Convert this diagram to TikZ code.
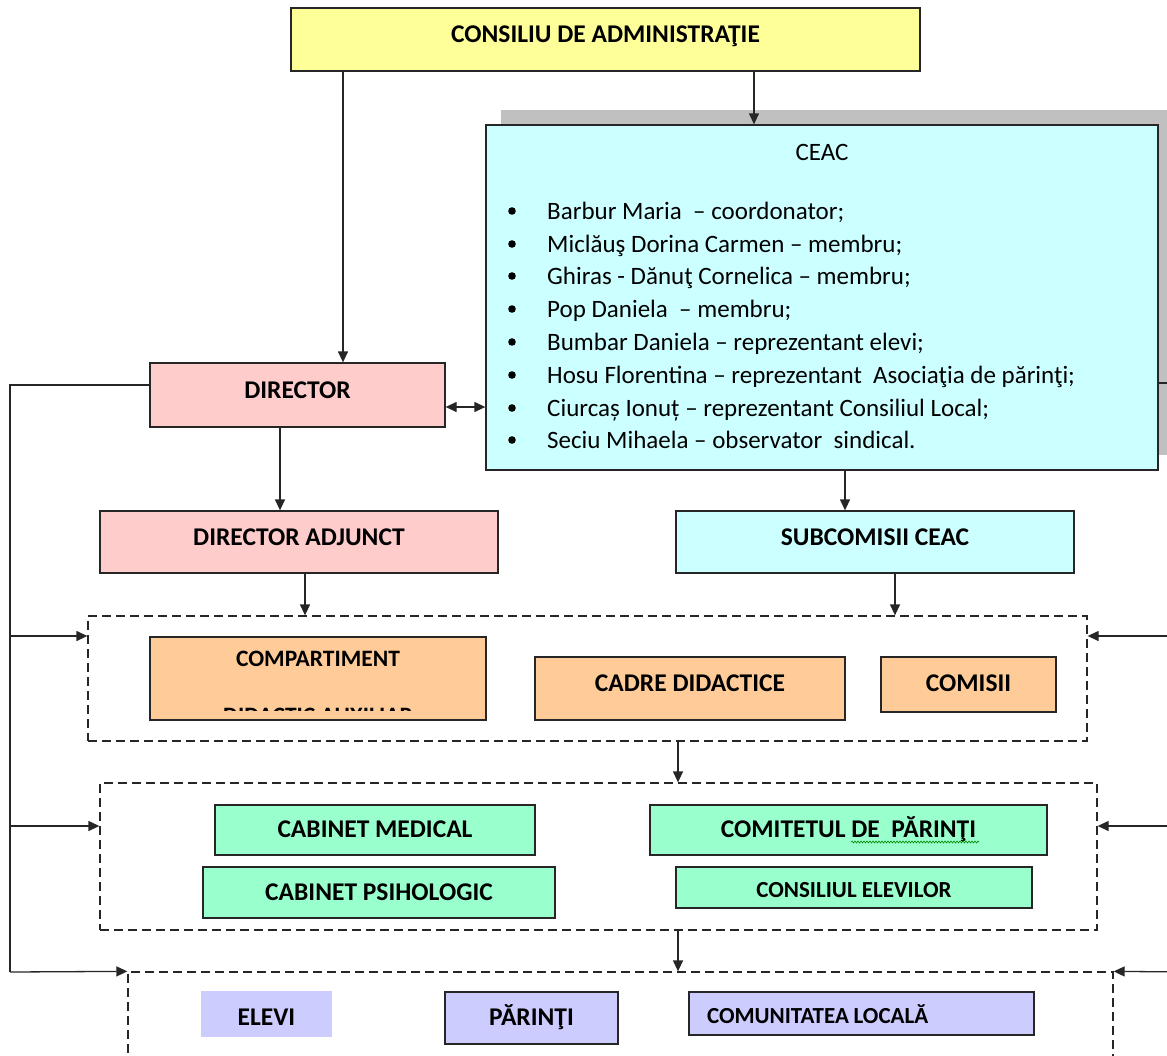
\documentclass[tikz,border=0pt]{standalone}
\usepackage{fontspec}
\setmainfont{Carlito}
\usetikzlibrary{arrows.meta,decorations.pathmorphing}
\definecolor{cyel}{HTML}{FFFF99}
\definecolor{cpnk}{HTML}{FFCCCC}
\definecolor{ccya}{HTML}{CCFFFF}
\definecolor{cora}{HTML}{FFCC99}
\definecolor{cgrn}{HTML}{99FFCC}
\definecolor{clav}{HTML}{CCCCFF}
\definecolor{cshd}{HTML}{C0C0C0}
\definecolor{cline}{HTML}{262626}
\begin{document}
\begin{tikzpicture}[x=1pt,y=-1pt,
  box/.style={draw=cline, line width=1.3pt, inner sep=0pt,
    font=\fontsize{25.5}{30}\selectfont\bfseries, text height=16pt, text depth=10pt},
  grp/.style={draw=cline, line width=1.3pt, dash pattern=on 9pt off 5pt, inner sep=0pt},
  reg/.style={inner sep=0pt, font=\fontsize{25}{30}\selectfont, text height=17pt, text depth=5pt},
  conn/.style={draw=cline, line width=1.3pt},
  arr/.style={conn, -{Triangle[length=11pt,width=10pt]}},
  darr/.style={conn, {Triangle[length=11pt,width=10pt]}-{Triangle[length=11pt,width=10pt]}},
]
\useasboundingbox (0,0) rectangle (1167,1055);
\clip (0,0) rectangle (1167,1055);

% top
\node[box, fill=cyel, minimum width=629pt, minimum height=63pt] (cons) at (605.5,39.5) {CONSILIU DE ADMINISTRAŢIE};

% CEAC with shadow
\fill[cshd] (501,110) rectangle (1175,455);
\node[draw=cline, line width=1.3pt, fill=ccya, minimum width=672pt, minimum height=345pt, inner sep=0pt] (ceac) at (822,297.5) {};
\node[reg] (ceact) at (822,154) {CEAC};
\foreach \i/\yy/\txt in {
  1/211/{Barbur Maria\ \ -- coordonator;},
  2/244/{Miclăuş Dorina Carmen -- membru;},
  3/276/{Ghiras - Dănuţ Cornelica -- membru;},
  4/309/{Pop Daniela\ \ -- membru;},
  5/342/{Bumbar Daniela -- reprezentant elevi;},
  6/375/{Hosu Florentina -- reprezentant\ \ Asociaţia de părinţi;},
  7/408/{Ciurcaș Ionuț -- reprezentant Consiliul Local;},
  8/440/{Seciu Mihaela -- observator\ \ sindical.}}{
  \fill (512,\yy) circle (3.8pt);
  \node[reg, anchor=west] (l\i) at (547,\yy+2) {\txt};
}

% director level
\node[box, fill=cpnk, minimum width=295pt, minimum height=64pt] (dir) at (297.5,395) {DIRECTOR};
\node[box, fill=cpnk, minimum width=398pt, minimum height=62pt] (dadj) at (299,542) {DIRECTOR ADJUNCT};
\node[box, fill=ccya, minimum width=398pt, minimum height=62pt] (sub) at (875,542) {SUBCOMISII CEAC};

% dashed groups
\node[grp, minimum width=999pt, minimum height=125pt] (g1) at (587.5,678.5) {};
\node[grp, minimum width=997pt, minimum height=147pt] (g2) at (598.5,856.5) {};
\node[grp, minimum width=985pt, minimum height=100pt] (g3) at (620.5,1022) {};

% group 1
\node[box, fill=cora, minimum width=336pt, minimum height=83pt] (comp) at (318,678.5) {};
\node[inner sep=0pt, font=\fontsize{23.5}{28}\selectfont\bfseries] (compt) at (318,659) {COMPARTIMENT};
\begin{scope}
  \clip (152,690) rectangle (484,710);
  \node[inner sep=0pt, font=\fontsize{23.5}{28}\selectfont\bfseries, anchor=base] (compt2) at (318,723) {DIDACTIC AUXILIAR};
\end{scope}
\node[box, fill=cora, minimum width=310pt, minimum height=63pt] (cadre) at (690,688.5) {CADRE DIDACTICE};
\node[box, fill=cora, minimum width=175pt, minimum height=55pt, text depth=3pt] (comisii) at (968.5,684.5) {COMISII};

% group 2
\node[box, fill=cgrn, minimum width=320pt, minimum height=50pt, text depth=2pt] (cmed) at (375,830) {CABINET MEDICAL};
\node[box, fill=cgrn, minimum width=352pt, minimum height=51pt, text depth=0pt] (cpsi) at (379,892.5) {CABINET PSIHOLOGIC};
\node[box, fill=cgrn, minimum width=397pt, minimum height=50pt, text depth=2pt] (comit) at (848.5,830) {COMITETUL DE\ \ PĂRINŢI};
\draw[green!55!black, line width=0.6pt, decorate, decoration={snake, amplitude=1pt, segment length=3pt}] (851,842) -- (979,842);
\node[box, fill=cgrn, minimum width=356pt, minimum height=41pt, text height=20pt, text depth=0pt, font=\fontsize{23}{28}\selectfont\bfseries] (consel) at (854,887.5) {CONSILIUL ELEVILOR};

% group 3
\node[box, draw=clav, fill=clav, minimum width=129pt, minimum height=44pt, text height=22pt, text depth=0pt] (elevi) at (266.5,1014) {ELEVI};
\node[box, fill=clav, minimum width=173pt, minimum height=52pt, text depth=2pt] (parinti) at (531.5,1018) {PĂRINŢI};
\node[box, fill=clav, minimum width=345pt, minimum height=43pt, text height=19pt, text depth=0pt, font=\fontsize{23}{28}\selectfont\bfseries, text width=309pt, align=left] (comun) at (861.5,1013.5) {COMUNITATEA\hspace{-3pt} LOCALĂ};

% connectors
\draw[arr] (343,0 |- cons.south) -- (343,0 |- dir.north);
\draw[arr] (754,0 |- cons.south) -- (754,0 |- ceac.north);
\draw[darr] (dir.east |- 0,407) -- (ceac.west |- 0,407);
\draw[arr] (280,0 |- dir.south) -- (280,0 |- dadj.north);
\draw[arr] (845,0 |- ceac.south) -- (845,0 |- sub.north);
\draw[arr] (305,0 |- dadj.south) -- (305,0 |- g1.north);
\draw[arr] (895,0 |- sub.south) -- (895,0 |- g1.north);
\draw[arr] (678,0 |- g1.south) -- (678,0 |- g2.north);
\draw[arr] (678,0 |- g2.south) -- (678,0 |- g3.north);

% left bus
\coordinate (L0) at (10,385);
\coordinate (L3) at (10,972);
\draw[conn] (dir.west |- L0) -- (L0) -- (L3);
\draw[arr] (10,636) -- (g1.west |- 0,636);
\draw[arr] (10,826) -- (g2.west |- 0,826);
\draw[arr] (L3) -- (g3.north west);

% right bus
\coordinate (R0) at (1185,383);
\coordinate (R3) at (1185,972);
\draw[conn] (ceac.east |- R0) -- (R0) -- (R3);
\draw[arr] (1185,636) -- (g1.east |- 0,636);
\draw[arr] (1185,826) -- (g2.east |- 0,826);
\draw[arr] (R3) -- (g3.north east);
\end{tikzpicture}
\end{document}
